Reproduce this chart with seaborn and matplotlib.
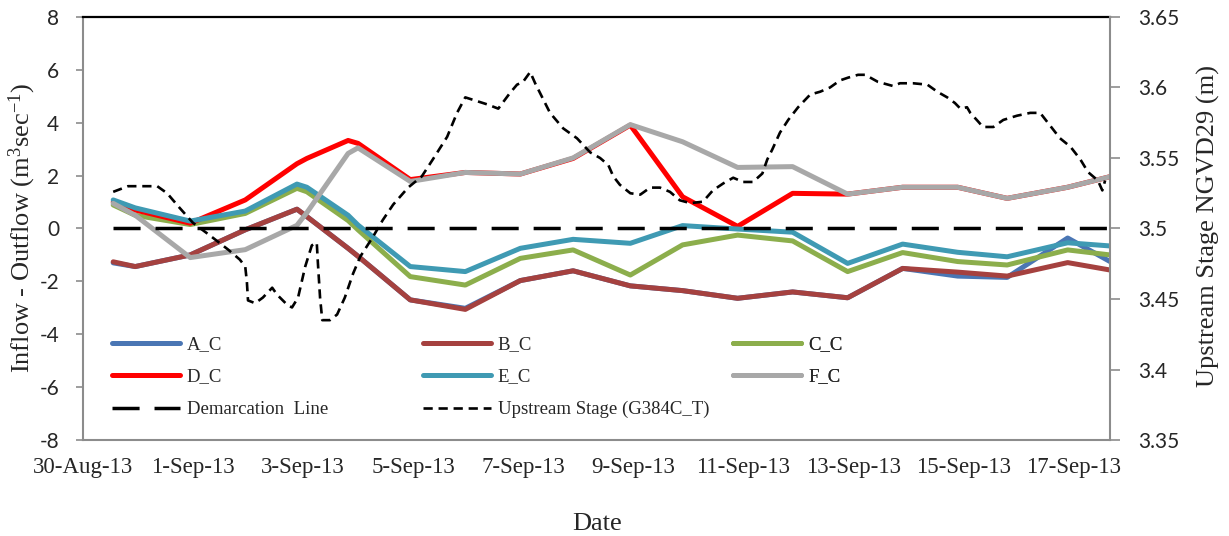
import numpy as np
import pandas as pd
import matplotlib
matplotlib.use("Agg")
import matplotlib.pyplot as plt
from matplotlib.lines import Line2D
import seaborn as sns

# ---- data -------------------------------------------------------------
start = pd.Timestamp("2013-08-30")

# observation times of the flow balances, in days after 30-Aug-2013 00:00
obs_day = [0.55, 0.95, 1.95, 2.95, 3.89, 4.07, 4.82, 5.0, 5.95, 6.95, 7.95,
           8.91, 9.95, 10.9, 11.9, 12.9, 13.9, 14.9, 15.9, 16.8, 17.9, 18.67]

a_c = [-1.30, -1.44, -1.00, -0.05, 0.73, 0.45, -0.75, -1.05, -2.70, -3.02, -1.97,
       -1.60, -2.17, -2.35, -2.64, -2.40, -2.62, -1.51, -1.80, -1.85, -0.36, -1.25]
b_c = [-1.26, -1.44, -1.00, -0.05, 0.73, 0.45, -0.75, -1.05, -2.70, -3.06, -1.97,
       -1.60, -2.17, -2.35, -2.64, -2.40, -2.62, -1.51, -1.65, -1.80, -1.29, -1.57]
c_c = [0.89, 0.50, 0.15, 0.57, 1.52, 1.39, 0.30, -0.05, -1.82, -2.14, -1.13,
       -0.81, -1.76, -0.62, -0.25, -0.47, -1.63, -0.91, -1.25, -1.38, -0.81, -1.00]
d_c = [1.00, 0.70, 0.20, 1.08, 2.45, 2.65, 3.33, 3.22, 1.85, 2.12, 2.06,
       2.65, 3.91, 1.20, 0.08, 1.33, 1.30, 1.56, 1.56, 1.14, 1.56, 1.96]
e_c = [1.08, 0.78, 0.28, 0.66, 1.68, 1.56, 0.50, 0.13, -1.44, -1.63, -0.75,
       -0.41, -0.56, 0.11, -0.02, -0.14, -1.32, -0.59, -0.90, -1.07, -0.54, -0.66]
f_c = [0.95, 0.50, -1.10, -0.80, 0.12, 0.60, 2.84, 3.05, 1.78, 2.12, 2.06,
       2.67, 3.93, 3.28, 2.31, 2.34, 1.30, 1.56, 1.56, 1.14, 1.56, 1.96]

series_names = ["A_C", "B_C", "C_C", "D_C", "E_C", "F_C"]
series_colors = ["#4A76B4", "#A5413F", "#8CAE4C", "#FF0000", "#3F9AB3", "#A8A8A8"]

demarc_day = [0.55, 18.67]
demarc_val = [0.0, 0.0]

# upstream stage at G384C_T (m, NGVD29)
stage_day = [0.55, 0.82, 1.35, 1.53, 1.76, 2.0, 2.31, 2.64, 2.85, 2.95, 2.98, 3.0,
             3.13, 3.27, 3.44, 3.53, 3.71, 3.8, 3.91, 4.04, 4.16, 4.25, 4.27, 4.31,
             4.35, 4.49, 4.62, 4.76, 4.91, 5.04, 5.27, 5.45, 5.64, 5.91, 6.16, 6.36,
             6.62, 6.8, 6.95, 7.35, 7.55, 7.76, 7.89, 8.0, 8.13, 8.22, 8.31, 8.49,
             8.73, 8.98, 9.22, 9.4, 9.55, 9.64, 9.76, 9.95, 10.13, 10.31, 10.49,
             10.67, 10.85, 11.04, 11.27, 11.45, 11.64, 11.82, 12.0, 12.18, 12.35,
             12.44, 12.53, 12.67, 12.82, 13.0, 13.22, 13.4, 13.58, 13.76, 13.91,
             14.09, 14.22, 14.45, 14.73, 14.85, 15.09, 15.35, 15.53, 15.71, 15.85,
             15.95, 16.07, 16.13, 16.27, 16.36, 16.55, 16.73, 16.98, 17.22, 17.4,
             17.58, 17.76, 17.95, 18.13, 18.27, 18.45, 18.53, 18.58]
stage_m = [3.526, 3.530, 3.530, 3.525, 3.5145, 3.504, 3.495, 3.485, 3.478, 3.473,
           3.462, 3.449, 3.447, 3.451, 3.458, 3.453, 3.446, 3.444, 3.451, 3.473,
           3.488, 3.490, 3.476, 3.451, 3.435, 3.435, 3.439, 3.451, 3.468, 3.480,
           3.494, 3.506, 3.517, 3.529, 3.537, 3.549, 3.565, 3.582, 3.593, 3.588,
           3.585, 3.596, 3.602, 3.604, 3.611, 3.603, 3.596, 3.582, 3.571, 3.564,
           3.554, 3.550, 3.545, 3.537, 3.531, 3.525, 3.524, 3.529, 3.529, 3.526,
           3.520, 3.518, 3.519, 3.527, 3.532, 3.536, 3.533, 3.533, 3.539, 3.549,
           3.556, 3.568, 3.577, 3.586, 3.595, 3.597, 3.600, 3.605, 3.607, 3.609,
           3.609, 3.604, 3.601, 3.603, 3.603, 3.602, 3.597, 3.593, 3.589, 3.585,
           3.586, 3.582, 3.576, 3.572, 3.572, 3.577, 3.580, 3.582, 3.582, 3.573,
           3.564, 3.558, 3.549, 3.540, 3.534, 3.527, 3.534]

flow_ticks = [-8, -6, -4, -2, 0, 2, 4, 6, 8]
stage_ticks = [3.35, 3.40, 3.45, 3.50, 3.55, 3.60, 3.65]
stage_tick_labels = ["3.35", "3.4", "3.45", "3.5", "3.55", "3.6", "3.65"]
date_tick_day = list(range(0, 19, 2))

# ---- styling ---------------------------------------------------------
sns.set_style("white")
plt.rcParams["font.family"] = ["Liberation Serif", "DejaVu Serif"]
plt.rcParams["mathtext.fontset"] = "custom"
plt.rcParams["mathtext.rm"] = "Liberation Serif"
plt.rcParams["mathtext.it"] = "Liberation Serif:italic"
AXIS_GREY = "#8C8C8C"


def to_time(days):
    return start + pd.to_timedelta(np.asarray(days, dtype=float), unit="D")


fig = plt.figure(figsize=(12.29, 5.36), dpi=100)
ax = fig.add_axes([0.0675, 0.1791, 0.8357, 0.7892])
ax2 = ax.twinx()

flows = pd.DataFrame({
    "time": np.tile(to_time(obs_day), len(series_names)),
    "flow": np.concatenate([a_c, b_c, c_c, d_c, e_c, f_c]),
    "site": np.repeat(series_names, len(obs_day)),
})

sns.lineplot(data=flows, x="time", y="flow", hue="site", hue_order=series_names,
             palette=series_colors, linewidth=3.6, legend=False, ax=ax,
             solid_capstyle="round", solid_joinstyle="round")

demarc = pd.DataFrame({"time": to_time(demarc_day), "flow": demarc_val})
sns.lineplot(data=demarc, x="time", y="flow", color="black", linewidth=2.5,
             linestyle=(0, (7.8, 4.3)), ax=ax, zorder=5)

stage = pd.DataFrame({"time": to_time(stage_day), "stage": stage_m})
sns.lineplot(data=stage, x="time", y="stage", color="black", linewidth=1.9,
             linestyle=(0, (3.5, 2.2)), ax=ax2, zorder=5)

# ---- axes ------------------------------------------------------------
ax.set_xlim(to_time([0.0])[0], to_time([18.67])[0])
ax.set_ylim(-8, 8)
ax2.set_ylim(3.35, 3.65)

date_ticks = to_time(date_tick_day)
ax.set_xticks(date_ticks, [f"{d.day}-{d:%b-%y}" for d in date_ticks], fontsize=16.5)
ax.set_yticks(flow_ticks, [str(v) for v in flow_ticks], fontfamily="Lato", fontsize=15)
ax2.set_yticks(stage_ticks, stage_tick_labels, fontfamily="Lato", fontsize=15)

ax.tick_params(axis="x", direction="out", length=5, width=1.2, color=AXIS_GREY, pad=7)
ax.tick_params(axis="y", direction="out", length=5, width=1.2, color=AXIS_GREY, pad=12)
ax2.tick_params(axis="y", direction="out", length=7, width=1.2, color=AXIS_GREY, pad=13)

for side in ["left", "bottom"]:
    ax.spines[side].set_color(AXIS_GREY)
    ax.spines[side].set_linewidth(1.5)
ax.spines["top"].set_color("black")
ax.spines["top"].set_linewidth(1.6)
ax.spines["right"].set_visible(False)
for side in ["left", "top", "bottom"]:
    ax2.spines[side].set_visible(False)
ax2.spines["right"].set_color(AXIS_GREY)
ax2.spines["right"].set_linewidth(1.5)

ax.set_xlabel("Date", fontsize=19)
ax.xaxis.set_label_coords(0.5005, -0.172)
ax.set_ylabel("Inflow - Outflow (m$^{3}$sec$^{-1}$)", fontsize=19)
ax.yaxis.set_label_coords(-0.044, 0.5)
ax2.set_ylabel("Upstream Stage NGVD29 (m)", fontsize=19)
ax2.yaxis.set_label_coords(1.085, 0.505)

# ---- legend (three columns) -----------------------------------------
handles = {n: Line2D([], [], color=c, linewidth=3.6, solid_capstyle="round")
           for n, c in zip(series_names, series_colors)}
demarc_handle = Line2D([], [], color="black", linewidth=2.5, linestyle=(0, (7.8, 4.3)))
stage_handle = Line2D([], [], color="black", linewidth=1.9, linestyle=(0, (3.5, 2.2)))

columns = [
    ([handles["A_C"], handles["D_C"], demarc_handle], ["A_C", "D_C", "Demarcation  Line"], 0.028),
    ([handles["B_C"], handles["E_C"], stage_handle], ["B_C", "E_C", "Upstream Stage (G384C_T)"], 0.331),
    ([handles["C_C"], handles["F_C"]], ["C_C", "F_C"], 0.633),
]
for hs, labels, x0 in columns:
    leg = ax2.legend(hs, labels, loc="upper left", bbox_to_anchor=(x0, 0.246),
                     frameon=False, fontsize=13.5, handlelength=3.63,
                     handletextpad=0.37, labelspacing=0.82, borderpad=0,
                     borderaxespad=0)
    ax2.add_artist(leg)

fig.savefig("out.png", dpi=100)
